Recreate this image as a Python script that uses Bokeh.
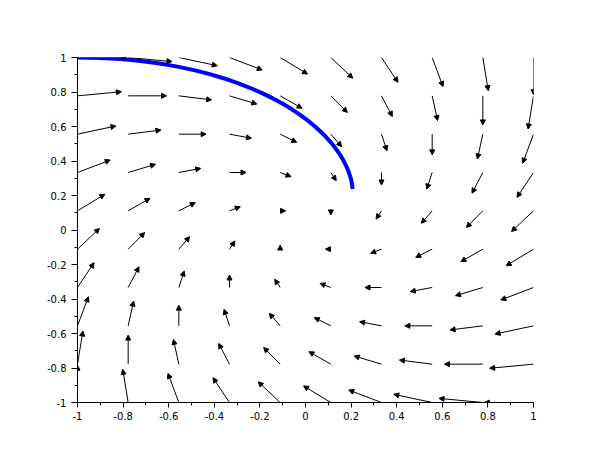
from bokeh.plotting import figure
from bokeh.models import (Arrow, NormalHead, ColumnDataSource, Range1d, FixedTicker,
                          CustomJSTickFormatter)
from bokeh.embed import file_html
from bokeh.resources import INLINE

# ---------------- data ----------------
grid_x = [-1.0, -0.7778, -0.5556, -0.3333, -0.1111, 0.1111, 0.3333, 0.5556, 0.7778, 1.0]
grid_y = [-1.0, -0.7778, -0.5556, -0.3333, -0.1111, 0.1111, 0.3333, 0.5556, 0.7778, 1.0]

# field components, one row per grid_y value (bottom to top), columns follow grid_x
field_u = [
    [0.0, -0.22, -0.44, -0.67, -0.89, -1.11, -1.33, -1.56, -1.78, -2.0],
    [0.22, 0.0, -0.22, -0.44, -0.67, -0.89, -1.11, -1.33, -1.56, -1.78],
    [0.44, 0.22, 0.0, -0.22, -0.44, -0.67, -0.89, -1.11, -1.33, -1.56],
    [0.67, 0.44, 0.22, 0.0, -0.22, -0.44, -0.67, -0.89, -1.11, -1.33],
    [0.89, 0.67, 0.44, 0.22, 0.0, -0.22, -0.44, -0.67, -0.89, -1.11],
    [1.11, 0.89, 0.67, 0.44, 0.22, 0.0, -0.22, -0.44, -0.67, -0.89],
    [1.33, 1.11, 0.89, 0.67, 0.44, 0.22, 0.0, -0.22, -0.44, -0.67],
    [1.56, 1.33, 1.11, 0.89, 0.67, 0.44, 0.22, 0.0, -0.22, -0.44],
    [1.78, 1.56, 1.33, 1.11, 0.89, 0.67, 0.44, 0.22, 0.0, -0.22],
    [2.0, 1.78, 1.56, 1.33, 1.11, 0.89, 0.67, 0.44, 0.22, 0.0],
]
field_v = [
    [2.0, 1.78, 1.56, 1.33, 1.11, 0.89, 0.67, 0.44, 0.22, 0.0],
    [1.78, 1.56, 1.33, 1.11, 0.89, 0.67, 0.44, 0.22, 0.0, -0.22],
    [1.56, 1.33, 1.11, 0.89, 0.67, 0.44, 0.22, 0.0, -0.22, -0.44],
    [1.33, 1.11, 0.89, 0.67, 0.44, 0.22, 0.0, -0.22, -0.44, -0.67],
    [1.11, 0.89, 0.67, 0.44, 0.22, 0.0, -0.22, -0.44, -0.67, -0.89],
    [0.89, 0.67, 0.44, 0.22, 0.0, -0.22, -0.44, -0.67, -0.89, -1.11],
    [0.67, 0.44, 0.22, 0.0, -0.22, -0.44, -0.67, -0.89, -1.11, -1.33],
    [0.44, 0.22, 0.0, -0.22, -0.44, -0.67, -0.89, -1.11, -1.33, -1.56],
    [0.22, 0.0, -0.22, -0.44, -0.67, -0.89, -1.11, -1.33, -1.56, -1.78],
    [0.0, -0.22, -0.44, -0.67, -0.89, -1.11, -1.33, -1.56, -1.78, -2.0],
]

# trajectory (blue curve)
traj_x = [-1.0, -0.9025, -0.80998, -0.72242, -0.63976, -0.56191, -0.4888, -0.42033,
          -0.35637, -0.2968, -0.2415, -0.1903, -0.14307, -0.09966, -0.0599, -0.02364,
          0.00928, 0.03902, 0.06575, 0.08962, 0.11079, 0.12942, 0.14567, 0.15967,
          0.17158, 0.18155, 0.1897, 0.19617, 0.2011, 0.20459, 0.20679]
traj_y = [1.0, 0.99758, 0.99065, 0.97967, 0.96507, 0.94727, 0.92666, 0.9036,
          0.87844, 0.8515, 0.82307, 0.79343, 0.76284, 0.73153, 0.69972, 0.66761,
          0.63538, 0.6032, 0.57121, 0.53954, 0.50833, 0.47766, 0.44764, 0.41836,
          0.38986, 0.36223, 0.3355, 0.30972, 0.28492, 0.26113, 0.23835]

tick_values = [-1.0, -0.8, -0.6, -0.4, -0.2, 0.0, 0.2, 0.4, 0.6, 0.8, 1.0]
tick_labels = ["-1", "-0.8", "-0.6", "-0.4", "-0.2", "0", "0.2", "0.4", "0.6", "0.8", "1"]
minor_tick_values = [-0.9, -0.7, -0.5, -0.3, -0.1, 0.1, 0.3, 0.5, 0.7, 0.9]

ARROW_SCALE = 0.108

# ---------------- figure ----------------
p = figure(width=594, height=440, output_backend="svg", toolbar_location=None,
           x_range=Range1d(-1, 1), y_range=Range1d(-1, 1),
           min_border_left=77, min_border_right=61, min_border_top=57, min_border_bottom=38)
p.outline_line_color = None
p.xgrid.visible = False
p.ygrid.visible = False
p.background_fill_color = "white"
p.border_fill_color = "white"

x0, y0, x1, y1 = [], [], [], []
for j, yy in enumerate(grid_y):
    for i, xx in enumerate(grid_x):
        x0.append(xx)
        y0.append(yy)
        x1.append(xx + ARROW_SCALE * field_u[j][i])
        y1.append(yy + ARROW_SCALE * field_v[j][i])
src = ColumnDataSource(dict(x0=x0, y0=y0, x1=x1, y1=y1))
p.add_layout(Arrow(end=NormalHead(size=5, fill_color="black", line_color="black", line_width=1),
                   x_start="x0", y_start="y0", x_end="x1", y_end="y1", source=src,
                   line_color="black", line_width=1))

p.line(traj_x, traj_y, line_color="#0000ff", line_width=4)

fmt = CustomJSTickFormatter(args=dict(vals=tick_values, labs=tick_labels), code="""
let best = 0;
for (let i = 0; i < vals.length; i++) {
  if (Math.abs(vals[i] - tick) < Math.abs(vals[best] - tick)) best = i;
}
return labs[best];
""")

for ax in (p.xaxis[0], p.yaxis[0]):
    ax.ticker = FixedTicker(ticks=tick_values, minor_ticks=minor_tick_values)
    ax.formatter = fmt
    ax.axis_line_color = "black"
    ax.axis_line_width = 1
    ax.major_tick_line_color = "black"
    ax.minor_tick_line_color = "black"
    ax.major_tick_in = 0
    ax.minor_tick_in = 0
    ax.major_label_text_font = "DejaVu Sans"
    ax.major_label_text_font_size = "10px"
    ax.major_label_text_color = "black"
p.xaxis.major_tick_out = 5
p.xaxis.minor_tick_out = 3
p.yaxis.major_tick_out = 6
p.yaxis.minor_tick_out = 3
p.xaxis.major_label_standoff = 4
p.yaxis.major_label_standoff = 5

open("out.html", "w").write(file_html(p, INLINE))
